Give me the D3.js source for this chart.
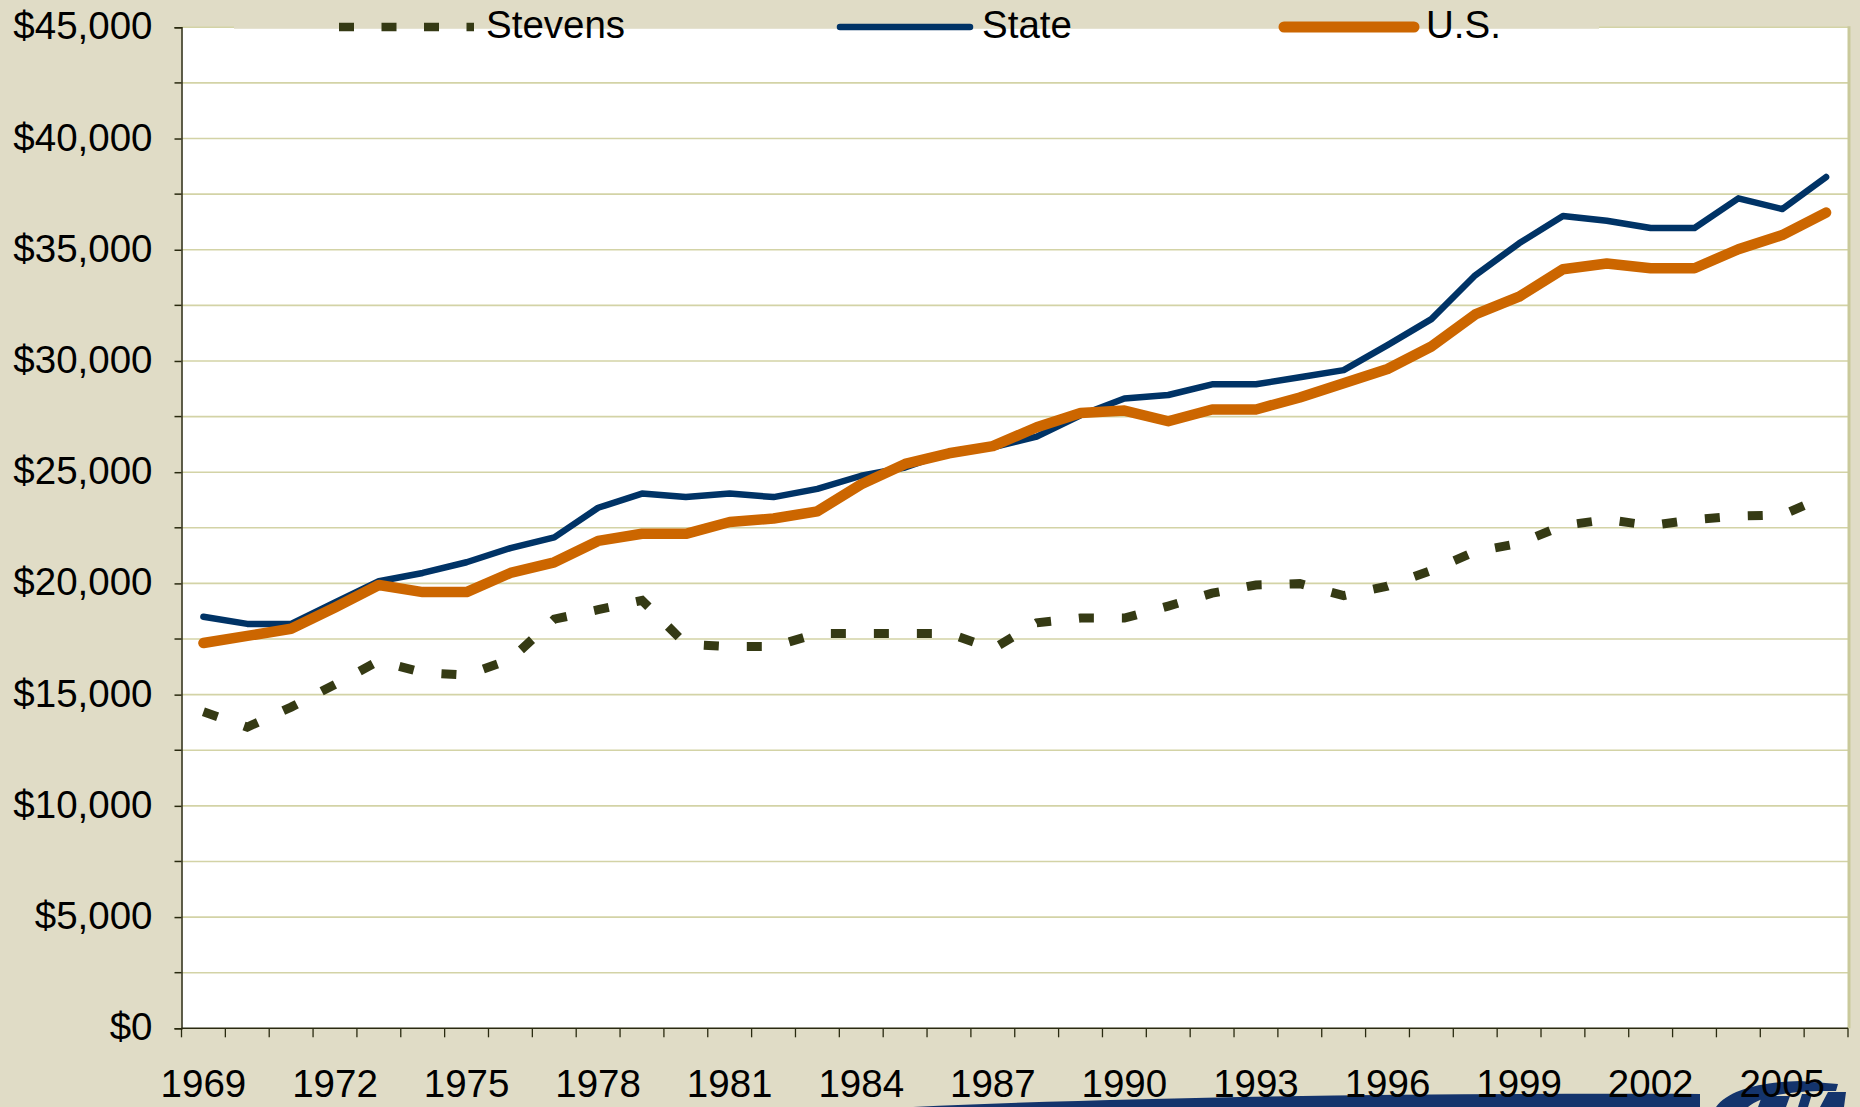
<!DOCTYPE html>
<html>
<head>
<meta charset="utf-8">
<script src="https://cdn.jsdelivr.net/npm/d3@7"></script>
<style>
  body { margin: 0; background: #e0dcc6; }
  svg { display: block; }
</style>
</head>
<body>
<div id="chart"></div>
<script>
// Per capita income, 1969-2006
const years = [1969, 1970, 1971, 1972, 1973, 1974, 1975, 1976, 1977, 1978,
  1979, 1980, 1981, 1982, 1983, 1984, 1985, 1986, 1987, 1988,
  1989, 1990, 1991, 1992, 1993, 1994, 1995, 1996, 1997, 1998,
  1999, 2000, 2001, 2002, 2003, 2004, 2005, 2006];

const stevens = [14230, 13540, 14440, 15460, 16520, 15990, 15880, 16580, 18390, 18820,
  19240, 17270, 17160, 17160, 17750, 17750, 17750, 17750, 17060, 18230,
  18440, 18440, 18980, 19560, 19930, 19990, 19450, 19880, 20580, 21430,
  21800, 22600, 22870, 22600, 22870, 23030, 23080, 23930];

const state = [18500, 18180, 18180, 19140, 20100, 20470, 20950, 21590, 22070, 23400,
  24040, 23880, 24040, 23880, 24250, 24840, 25210, 25900, 26120, 26600,
  27560, 28310, 28470, 28950, 28950, 29270, 29590, 30710, 31880, 33850,
  35290, 36520, 36300, 35980, 35980, 37310, 36830, 38270];

const us = [17320, 17640, 17960, 18920, 19930, 19610, 19610, 20470, 20950, 21910,
  22230, 22230, 22760, 22920, 23240, 24460, 25370, 25850, 26170, 27020,
  27660, 27770, 27290, 27820, 27820, 28360, 29000, 29640, 30650, 32090,
  32890, 34120, 34380, 34170, 34170, 35020, 35660, 36670];

const yearLabels = [1969, 1972, 1975, 1978, 1981, 1984, 1987, 1990, 1993, 1996, 1999, 2002, 2005];
const yLabels = [0, 5000, 10000, 15000, 20000, 25000, 30000, 35000, 40000, 45000];
const yGrid = [2500, 5000, 7500, 10000, 12500, 15000, 17500, 20000, 22500, 25000,
  27500, 30000, 32500, 35000, 37500, 40000, 42500, 45000];

const seriesNames = ["Stevens", "State", "U.S."];

const width = 1860, height = 1107;
const margin = { top: 27.3, right: 12, bottom: 78.7, left: 181.5 };
const font = "'Liberation Sans', Arial, sans-serif";

const svg = d3.select("#chart").append("svg")
  .attr("width", width)
  .attr("height", height);

svg.append("rect")
  .attr("width", width).attr("height", height)
  .attr("fill", "#e0dcc6");

const x = d3.scaleBand()
  .domain(years)
  .range([margin.left, width - margin.right])
  .padding(0);

const y = d3.scaleLinear()
  .domain([0, 45000])
  .range([height - margin.bottom, margin.top]);

const cx = d => x(d) + x.bandwidth() / 2;

// plot area
svg.append("rect")
  .attr("x", margin.left)
  .attr("y", y(45000))
  .attr("width", width - margin.right - margin.left)
  .attr("height", y(0) - y(45000))
  .attr("fill", "#ffffff");

// grid lines
svg.append("g")
  .selectAll("line")
  .data(yGrid)
  .join("line")
  .attr("x1", margin.left)
  .attr("x2", width - margin.right)
  .attr("y1", d => y(d))
  .attr("y2", d => y(d))
  .attr("stroke", "#d3d3a6")
  .attr("stroke-width", 1.6);

// right border of plot
svg.append("line")
  .attr("x1", width - margin.right + 1)
  .attr("x2", width - margin.right + 1)
  .attr("y1", y(45000) - 1)
  .attr("y2", y(0))
  .attr("stroke", "#c9c99b")
  .attr("stroke-width", 3);

// decorative swoosh + logo at the bottom (slide background)
svg.append("path")
  .attr("d", `M913,1107 C1150,1096 1450,1093 1700,1094 L1700,1107 Z`)
  .attr("fill", "#14346c");
svg.append("path")
  .attr("d", `M1716,1107 C1728,1090 1760,1082 1800,1081 L1838,1084 L1836,1091 C1795,1090 1762,1095 1748,1107 Z
              M1758,1107 L1762,1096 L1790,1096 L1786,1107 Z
              M1798,1107 L1802,1094 L1812,1094 L1808,1107 Z
              M1820,1107 L1828,1092 L1846,1092 L1844,1107 Z`)
  .attr("fill", "#14346c");

// y axis
const yAxis = svg.append("g")
  .attr("transform", `translate(${margin.left},0)`)
  .call(d3.axisLeft(y)
    .tickValues(yLabels)
    .tickSize(7)
    .tickPadding(22)
    .tickFormat(d => "$" + d3.format(",")(d)));

yAxis.select(".domain").attr("stroke", "#2a2a10").attr("stroke-width", 1.5);
yAxis.selectAll(".tick line").attr("stroke", "#2a2a10").attr("stroke-width", 1.5);
yAxis.selectAll("text")
  .style("font-family", font)
  .style("font-size", "38.5px")
  .attr("fill", "#000")
  .attr("dy", "0.3em");

// minor ticks on y axis
svg.append("g")
  .selectAll("line")
  .data(yGrid.filter(d => !yLabels.includes(d)))
  .join("line")
  .attr("x1", margin.left - 7)
  .attr("x2", margin.left)
  .attr("y1", d => y(d))
  .attr("y2", d => y(d))
  .attr("stroke", "#2a2a10")
  .attr("stroke-width", 1.5);

// x axis line
svg.append("line")
  .attr("x1", margin.left)
  .attr("x2", width - margin.right)
  .attr("y1", y(0))
  .attr("y2", y(0))
  .attr("stroke", "#2a2a10")
  .attr("stroke-width", 1.5);

// x ticks between categories
svg.append("g")
  .selectAll("line")
  .data(years.map(d => x(d)).concat([x(years[years.length - 1]) + x.bandwidth()]))
  .join("line")
  .attr("x1", d => d)
  .attr("x2", d => d)
  .attr("y1", y(0))
  .attr("y2", y(0) + 9)
  .attr("stroke", "#2a2a10")
  .attr("stroke-width", 1.3);

// x labels
svg.append("g")
  .selectAll("text")
  .data(yearLabels)
  .join("text")
  .attr("x", d => cx(d))
  .attr("y", 1097)
  .attr("text-anchor", "middle")
  .style("font-family", font)
  .style("font-size", "38.5px")
  .attr("fill", "#000")
  .text(d => d);

// lines
const line = vals => d3.line()
  .x((d, i) => cx(years[i]))
  .y(d => y(d))(vals);

svg.append("path")
  .attr("d", line(stevens))
  .attr("fill", "none")
  .attr("stroke", "#353a14")
  .attr("stroke-width", 9)
  .attr("stroke-dasharray", "15,28");

svg.append("path")
  .attr("d", line(state))
  .attr("fill", "none")
  .attr("stroke", "#003366")
  .attr("stroke-width", 6.5)
  .attr("stroke-linecap", "round")
  .attr("stroke-linejoin", "round");

svg.append("path")
  .attr("d", line(us))
  .attr("fill", "none")
  .attr("stroke", "#cc6600")
  .attr("stroke-width", 10.5)
  .attr("stroke-linecap", "round")
  .attr("stroke-linejoin", "round");

// legend (its box covers the top grid line)
const legend = svg.append("g");
legend.append("rect")
  .attr("x", 234).attr("y", 0)
  .attr("width", 1365).attr("height", y(45000) + 1.5)
  .attr("fill", "#e0dcc6");

const legendItems = [
  { name: seriesNames[0], x1: 339, x2: 474, color: "#353a14", w: 8.5, dash: "15,27.5", cap: "butt" },
  { name: seriesNames[1], x1: 840, x2: 970, color: "#003366", w: 6.5, dash: null, cap: "round" },
  { name: seriesNames[2], x1: 1284, x2: 1414, color: "#cc6600", w: 11, dash: null, cap: "round" }
];

legendItems.forEach(d => {
  legend.append("line")
    .attr("x1", d.x1).attr("x2", d.x2)
    .attr("y1", 27).attr("y2", 27)
    .attr("stroke", d.color)
    .attr("stroke-width", d.w)
    .attr("stroke-linecap", d.cap)
    .attr("stroke-dasharray", d.dash);
  legend.append("text")
    .attr("x", d.x2 + 12)
    .attr("y", 38)
    .style("font-family", font)
    .style("font-size", "38.5px")
    .attr("fill", "#000")
    .text(d.name);
});
</script>
</body>
</html>
